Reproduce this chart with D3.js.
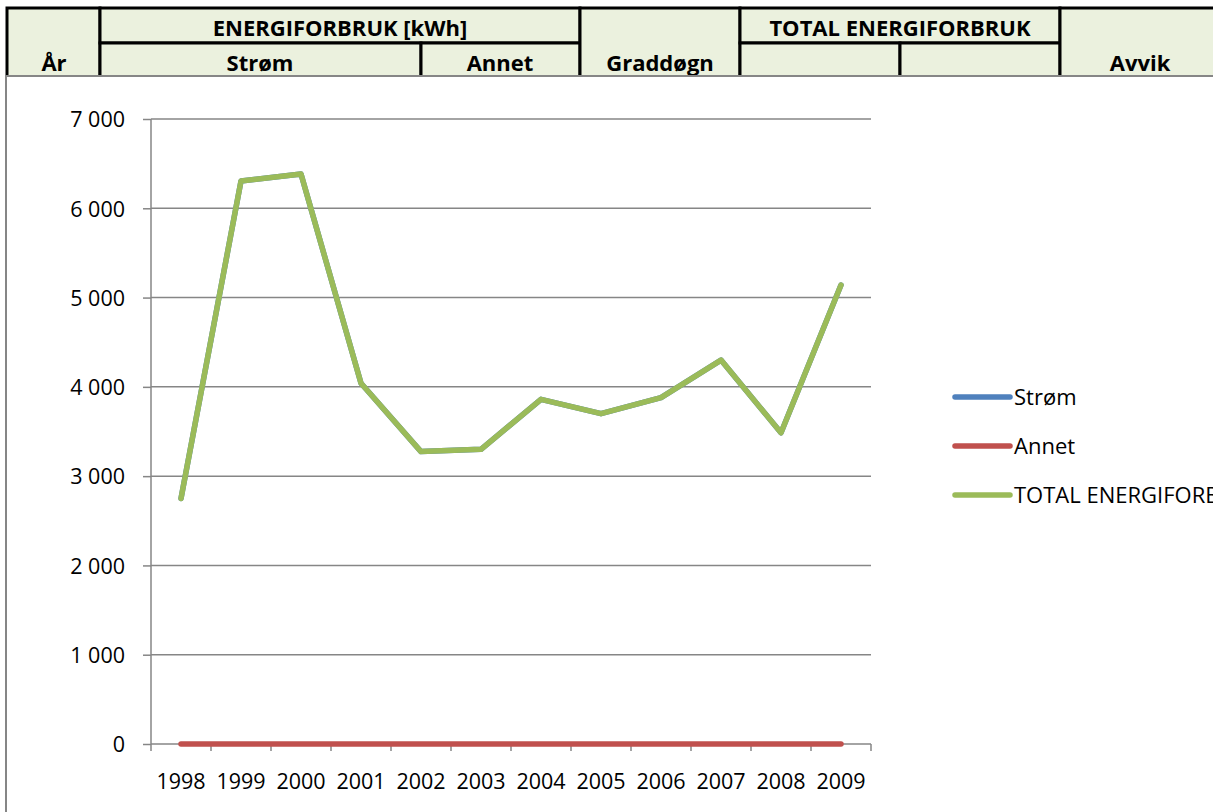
<!DOCTYPE html>
<html>
<head>
  <meta charset="utf-8">
  <title>Energiforbruk</title>
  <script src="https://d3js.org/d3.v7.min.js"></script>
  <style>
    body { margin: 0; background: #fff; }
    text { font-family: 'Open Sans', 'Noto Sans', sans-serif; fill: #000; }
    .head text { font-weight: bold; font-size: 22px; text-anchor: middle; }
    .axis text { font-size: 21.5px; }
    .legend text { font-size: 22px; }
  </style>
</head>
<body>
  <div id="chart"></div>
  <script>
    // data
    var years = ["1998", "1999", "2000", "2001", "2002", "2003", "2004", "2005", "2006", "2007", "2008", "2009"];
    var strom = [2750, 6305, 6385, 4040, 3275, 3300, 3860, 3700, 3880, 4300, 3485, 5140];
    var annet = [0, 0, 0, 0, 0, 0, 0, 0, 0, 0, 0, 0];
    var total = [2750, 6305, 6385, 4040, 3275, 3300, 3860, 3700, 3880, 4300, 3485, 5140];
    var seriesNames = ["Strøm", "Annet", "TOTAL ENERGIFORBRUK"];
    var yTicks = [0, 1000, 2000, 3000, 4000, 5000, 6000, 7000];

    var colors = ["#4f81bd", "#c0504d", "#9bbb59"];

    var W = 1213, H = 812;
    var svg = d3.select("#chart").append("svg")
      .attr("width", W)
      .attr("height", H);

    // --- spreadsheet header above the chart ---
    var head = svg.append("g").attr("class", "head");
    // cells: x0, x1, y0, y1, label, text x
    var cells = [
      [7, 100, 8, 77, "År", 54],
      [100, 580, 8, 43, "ENERGIFORBRUK [kWh]", 340],
      [100, 421, 43, 77, "Strøm", 260],
      [421, 580, 43, 77, "Annet", 500],
      [580, 740, 8, 77, "Graddøgn", 660],
      [740, 1060, 8, 43, "TOTAL ENERGIFORBRUK", 900],
      [740, 900, 43, 77, "", 820],
      [900, 1060, 43, 77, "", 980],
      [1060, 1230, 8, 77, "Avvik", 1140]
    ];
    head.selectAll("rect")
      .data(cells)
      .enter()
      .append("rect")
        .attr("x", function(d) { return d[0]; })
        .attr("y", function(d) { return d[2]; })
        .attr("width", function(d) { return d[1] - d[0]; })
        .attr("height", function(d) { return d[3] - d[2]; })
        .attr("fill", "#ebf1de")
        .attr("stroke", "#000")
        .attr("stroke-width", 3);
    head.selectAll("text")
      .data(cells)
      .enter()
      .append("text")
        .attr("x", function(d) { return d[5]; })
        .attr("y", function(d) { return d[3] < 50 ? 36 : 71; })
        .text(function(d) { return d[4]; });

    // --- chart area ---
    svg.append("rect")
      .attr("x", 6)
      .attr("y", 76)
      .attr("width", W + 20)
      .attr("height", H)
      .attr("fill", "#fff")
      .attr("stroke", "#868686")
      .attr("stroke-width", 2);

    var plotL = 151, plotR = 871, plotT = 119, plotB = 744;

    var x = d3.scaleBand().domain(years).range([plotL, plotR]);
    var y = d3.scaleLinear().domain([0, 7000]).range([plotB, plotT]);
    var cx = function(i) { return x(years[i]) + x.bandwidth() / 2; };

    var locale = d3.formatLocale({ decimal: ",", thousands: "\u00a0", grouping: [3], currency: ["", ""] });
    var fmt = locale.format(",");

    // gridlines
    svg.append("g")
      .selectAll("line")
      .data(yTicks.filter(function(d) { return d > 0; }))
      .enter()
      .append("line")
        .attr("x1", plotL)
        .attr("x2", plotR)
        .attr("y1", function(d) { return y(d); })
        .attr("y2", function(d) { return y(d); })
        .attr("stroke", "#868686")
        .attr("stroke-width", 1.5);

    // y axis
    var yAxis = svg.append("g")
      .attr("class", "axis")
      .attr("transform", "translate(" + plotL + ",0)")
      .call(d3.axisLeft(y).tickValues(yTicks).tickFormat(fmt).tickSize(8).tickPadding(18));
    yAxis.select(".domain").remove();
    yAxis.selectAll(".tick line").attr("stroke", "#868686").attr("stroke-width", 1.5);
    yAxis.selectAll("text").attr("dy", "0.36em");
    svg.append("line")
      .attr("x1", plotL).attr("x2", plotL)
      .attr("y1", plotT).attr("y2", plotB + 7)
      .attr("stroke", "#868686").attr("stroke-width", 1.5);

    // x axis
    var xAxis = svg.append("g")
      .attr("class", "axis")
      .attr("transform", "translate(0," + plotB + ")")
      .call(d3.axisBottom(x).tickSize(0).tickPadding(30));
    xAxis.select(".domain").remove();
    svg.append("line")
      .attr("x1", plotL).attr("x2", plotR)
      .attr("y1", plotB).attr("y2", plotB)
      .attr("stroke", "#868686").attr("stroke-width", 1.5);
    svg.append("g")
      .selectAll("line")
      .data(years.slice(1).concat(["end"]))
      .enter()
      .append("line")
        .attr("x1", function(d) { return d === "end" ? plotR : x(d); })
        .attr("x2", function(d) { return d === "end" ? plotR : x(d); })
        .attr("y1", plotB)
        .attr("y2", plotB + 7)
        .attr("stroke", "#868686")
        .attr("stroke-width", 1.5);

    // lines
    var line = d3.line()
      .x(function(d, i) { return cx(i); })
      .y(function(d) { return y(d); });

    svg.append("g")
      .selectAll("path")
      .data([strom, annet, total])
      .enter()
      .append("path")
        .attr("d", line)
        .attr("fill", "none")
        .attr("stroke", function(d, i) { return colors[i]; })
        .attr("stroke-width", 5.5)
        .attr("stroke-linejoin", "round")
        .attr("stroke-linecap", "round");

    // legend
    var legend = svg.append("g")
      .attr("class", "legend")
      .selectAll("g")
      .data(seriesNames)
      .enter()
      .append("g")
        .attr("transform", function(d, i) { return "translate(955," + (397 + i * 49) + ")"; });
    legend.append("line")
      .attr("x1", 0).attr("x2", 55)
      .attr("stroke", function(d, i) { return colors[i]; })
      .attr("stroke-width", 5.5)
      .attr("stroke-linecap", "round");
    legend.append("text")
      .attr("x", 59)
      .attr("y", 8)
      .text(function(d) { return d; });
  </script>
</body>
</html>
